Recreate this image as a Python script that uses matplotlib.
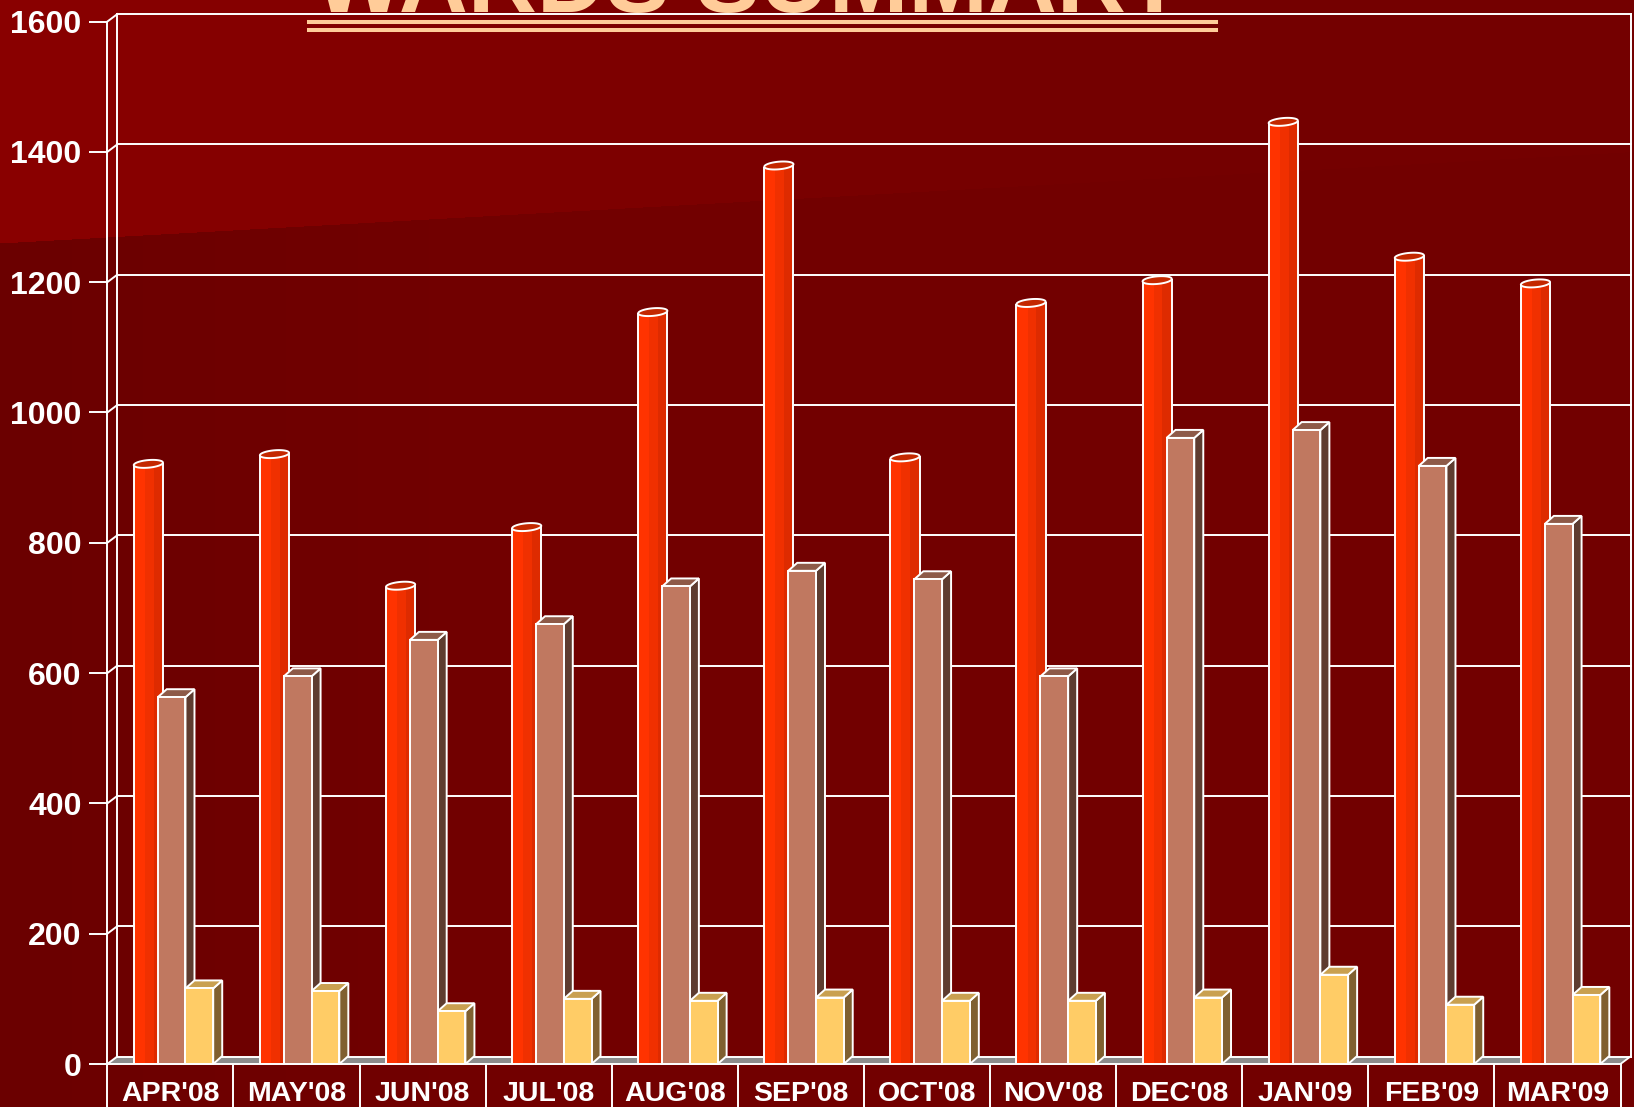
import numpy as np
import matplotlib
matplotlib.use('Agg')
import matplotlib.pyplot as plt
from matplotlib.patches import Polygon, Rectangle
from matplotlib.lines import Line2D
from matplotlib import font_manager

# ---------------- data ----------------
months = ["APR'08", "MAY'08", "JUN'08", "JUL'08", "AUG'08", "SEP'08",
          "OCT'08", "NOV'08", "DEC'08", "JAN'09", "FEB'09", "MAR'09"]
series_red = [915, 930, 728, 818, 1148, 1373, 925, 1162, 1197, 1440, 1233, 1192]
series_brown = [563, 595, 651, 675, 733, 757, 744, 595, 961, 973, 918, 829]
series_yellow = [116, 112, 81, 100, 97, 102, 97, 97, 102, 137, 91, 106]
y_ticks = [0, 200, 400, 600, 800, 1000, 1200, 1400, 1600]
title = "WARDS SUMMARY"

# ---------------- style ----------------
plt.rcParams['font.family'] = ['Liberation Sans', 'DejaVu Sans']
W_PX, H_PX, DPI = 1634, 1107, 100
PEACH = '#FFCC99'
RED_BODY = ['#FF3300', '#F03000', '#DE2B00']
RED_TOP = '#C42800'
BROWN = ('#C07860', '#8E5A48', '#5E3C30')
YELLOW = ('#FFCC66', '#C9A050', '#806030')
FLOOR = '#8C8C8C'
EDGE_LW = 1.4

fig = plt.figure(figsize=(W_PX / DPI, H_PX / DPI), dpi=DPI)

# background gradient
bg = fig.add_axes([0, 0, 1, 1])
bg.set_axis_off()
xx = np.arange(W_PX)[None, :].astype(float)
yy = np.arange(H_PX)[:, None].astype(float)
boundary = 243 - 0.056 * xx
upper = yy < boundary
r_up = np.clip(138 - xx * 0.02, 117, None)
r_lo = np.clip(107 + xx * 0.014, None, 115)
R = np.where(upper, r_up, r_lo)
img = np.zeros((H_PX, W_PX, 3))
img[..., 0] = R / 255.0
bg.imshow(img, extent=[0, 1, 0, 1], aspect='auto', origin='upper', zorder=0)
bg.set_xlim(0, 1)
bg.set_ylim(0, 1)

# main axes (front plane)
x_left, x_right = 107.3, 1620.5
y_zero, y_top = 1064.0, 21.6
ax = fig.add_axes([x_left / W_PX, (H_PX - y_zero) / H_PX,
                   (x_right - x_left) / W_PX, (y_zero - y_top) / H_PX])
n = len(months)
ax.set_xlim(0, n)
ax.set_ylim(0, y_ticks[-1])
ax.patch.set_visible(False)

px_x = (x_right - x_left) / n            # pixels per category
px_y = (y_zero - y_top) / y_ticks[-1]    # pixels per value unit
DXw, DYw = 10.0 / px_x, 7.5 / px_y       # wall depth (data units)
DXb, DYb = 9.0 / px_x, 8.0 / px_y        # bar depth (data units)

# floor
ax.add_patch(Polygon([(0, 0), (n, 0), (n + DXw, DYw), (DXw, DYw)], closed=True,
                     facecolor=FLOOR, edgecolor='none', zorder=1, clip_on=False))
ax.plot([n, n + DXw], [0, DYw], color='white', lw=1.3, zorder=1.2, clip_on=False)

# back wall gridlines + side wall diagonals
for v in y_ticks:
    ax.plot([DXw, n + DXw], [v + DYw, v + DYw], color='white', lw=1.4, zorder=1.5, clip_on=False)
    ax.plot([0, DXw], [v, v + DYw], color='white', lw=1.4, zorder=1.5, clip_on=False)
ax.plot([DXw, DXw], [DYw, y_ticks[-1] + DYw], color='white', lw=1.4, zorder=1.5, clip_on=False)
ax.plot([n + DXw, n + DXw], [DYw, y_ticks[-1] + DYw], color='white', lw=1.4, zorder=1.5, clip_on=False)

BAR_W = 0.22
OFFSETS = [0.18, 0.40, 0.62]


def draw_box(x0, v, colors, z):
    front, top, side = colors
    ax.add_patch(Polygon([(x0 + BAR_W, 0), (x0 + BAR_W + DXb, DYb), (x0 + BAR_W + DXb, v + DYb), (x0 + BAR_W, v)],
                         closed=True, facecolor=side, edgecolor='white', lw=EDGE_LW, zorder=z, clip_on=False))
    ax.add_patch(Polygon([(x0, v), (x0 + BAR_W, v), (x0 + BAR_W + DXb, v + DYb), (x0 + DXb, v + DYb)],
                         closed=True, facecolor=top, edgecolor='white', lw=EDGE_LW, zorder=z, clip_on=False))
    ax.add_patch(Polygon([(x0, 0), (x0 + BAR_W, 0), (x0 + BAR_W, v), (x0, v)],
                         closed=True, facecolor=front, edgecolor='white', lw=EDGE_LW, zorder=z, clip_on=False))


def draw_cylinder(x0, v, z):
    cx = x0 + BAR_W / 2 + DXb / 2
    ths = np.arctan2(DXb, BAR_W)
    th = np.linspace(ths + np.pi, ths + 2 * np.pi, 80)

    def arc(cy, t):
        return np.column_stack([cx + (BAR_W / 2) * np.cos(t) + (DXb / 2) * np.sin(t),
                                cy + (DYb / 2) * np.sin(t)])
    top_arc = arc(v + DYb / 2, th)
    xl_, xr_ = top_arc[0, 0], top_arc[-1, 0]
    # flat-bottomed body (sits on the floor line)
    body_pts = np.vstack([top_arc, [[xr_, 0], [xl_, 0]]])
    body = Polygon(body_pts, closed=True, facecolor=RED_BODY[0], edgecolor='none',
                   zorder=z, clip_on=False)
    ax.add_patch(body)
    wid = xr_ - xl_
    for frac0, frac1, col in [(0.38, 0.68, RED_BODY[1]), (0.68, 1.0, RED_BODY[2])]:
        r = Rectangle((xl_ + frac0 * wid, 0), (frac1 - frac0) * wid, v + DYb,
                      facecolor=col, edgecolor='none', zorder=z)
        ax.add_patch(r)
        r.set_clip_path(body)
    # silhouette outlines
    ax.plot([xl_, xl_], [0, top_arc[0, 1]], color='white', lw=EDGE_LW, zorder=z, clip_on=False,
            solid_capstyle='butt')
    ax.plot([xr_, xr_], [0, top_arc[-1, 1]], color='white', lw=EDGE_LW, zorder=z, clip_on=False,
            solid_capstyle='butt')
    full = arc(v + DYb / 2, np.linspace(0, 2 * np.pi, 120))
    ax.add_patch(Polygon(full, closed=True, facecolor=RED_TOP, edgecolor='white', lw=EDGE_LW,
                         zorder=z, clip_on=False))


z = 3.0
for i in range(n):
    draw_cylinder(i + OFFSETS[0], series_red[i], z); z += 0.01
    draw_box(i + OFFSETS[1], series_brown[i], BROWN, z); z += 0.01
    draw_box(i + OFFSETS[2], series_yellow[i], YELLOW, z); z += 0.01

# spines / ticks
for s in ['top', 'right']:
    ax.spines[s].set_visible(False)
for s in ['left', 'bottom']:
    ax.spines[s].set_color('white')
    ax.spines[s].set_linewidth(1.4)
    ax.spines[s].set_zorder(10)

ax.set_yticks(y_ticks)
ax.set_yticklabels([str(v) for v in y_ticks])
ax.tick_params(axis='y', direction='out', length=13.0, width=1.4, color='white',
               labelcolor='white', labelsize=23, pad=5.4)
for t in ax.get_yticklabels():
    t.set_fontweight('bold')

ax.set_xticks(np.arange(n + 1))
ax.set_xticklabels([])
ax.set_xticks(np.arange(n) + 0.5, minor=True)
ax.set_xticklabels(months, minor=True)
ax.tick_params(axis='x', which='major', direction='out', length=32, width=1.4, color='white')
ax.tick_params(axis='x', which='minor', length=0, labelcolor='white', labelsize=20.5, pad=12.5)
for t in ax.get_xticklabels(minor=True):
    t.set_fontweight('bold')

# title (cut off at top) and double underline
try:
    font_manager.findfont(font_manager.FontProperties(family='Liberation Sans Narrow', weight='bold'),
                          fallback_to_default=False)
    tfam = ['Liberation Sans Narrow', 'Liberation Sans']
except Exception:
    tfam = ['Liberation Sans', 'DejaVu Sans']
t = fig.text(749.5 / W_PX, (H_PX - 11.7) / H_PX, title, ha='center', va='baseline',
             color=PEACH, fontsize=80, fontweight='bold', family=tfam, zorder=20)
rend = fig.canvas.get_renderer()
wpx = t.get_window_extent(rend).width
t.set_fontsize(80 * 872.0 / wpx)

for ypx in (21.7, 29.7):
    fig.add_artist(Line2D([309 / W_PX, 1216 / W_PX], [(H_PX - ypx) / H_PX] * 2,
                          transform=fig.transFigure, color=PEACH, lw=2.9, zorder=20))

fig.savefig('out.png', dpi=DPI)
